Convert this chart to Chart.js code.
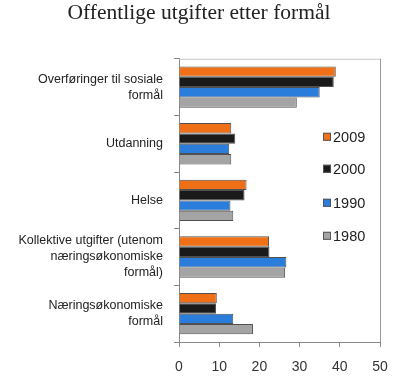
<!DOCTYPE html>
<html>
<head>
<meta charset="utf-8">
<script src="https://cdn.jsdelivr.net/npm/chart.js@4.4.1/dist/chart.umd.min.js"></script>
<style>
    html, body {margin: 0; padding: 0; background: #fff;}
    #wrap {width: 400px; height: 385px; position: relative;}
</style>
</head>
<body>
<div id="wrap"><canvas id="chart"></canvas></div>
<script>
const categories = [
    ["Overføringer til sosiale", "formål"],
    "Utdanning",
    "Helse",
    ["Kollektive utgifter (utenom", "næringsøkonomiske", "formål)"],
    ["Næringsøkonomiske", "formål"]
]
const years = ["2009", "2000", "1990", "1980"]
const values2009 = [39, 13, 16.8, 22.4, 9.4]
const values2000 = [38.5, 14, 16.3, 22.5, 9.2]
const values1990 = [35, 12.5, 12.8, 26.7, 13.5]
const values1980 = [29.3, 13, 13.5, 26.4, 18.4]
const xTicks = [0, 10, 20, 30, 40, 50]

const colors = ["#f07018", "#1a1a1a", "#2b7ddb", "#a4a4a4"]
const series = [values2009, values2000, values1990, values1980]

// box around the plot + legend inside the plot area
const framePlugin = {
    id: "frame",
    afterDraw(chart) {
        let ctx = chart.ctx
        let a = chart.chartArea
        ctx.save()
        ctx.lineWidth = 1
        ctx.strokeStyle = "#c8c8c8"
        ctx.beginPath()
        ctx.moveTo(a.left, a.top + 0.5)
        ctx.lineTo(a.right, a.top + 0.5)
        ctx.stroke()
        ctx.strokeStyle = "#999"
        ctx.beginPath()
        ctx.moveTo(a.right + 0.5, a.top)
        ctx.lineTo(a.right + 0.5, a.bottom)
        ctx.stroke()

        let legendY = [78, 110, 144, 177]
        ctx.font = "14.5px 'Liberation Sans', Arial, sans-serif"
        ctx.textBaseline = "middle"
        chart.data.datasets.forEach((ds, i) => {
            let y = a.top + legendY[i]
            let x = 323
            ctx.fillStyle = ds.backgroundColor
            ctx.fillRect(x, y - 4, 8, 8)
            ctx.strokeStyle = "#555"
            ctx.strokeRect(x + 0.5, y - 3.5, 7, 7)
            ctx.fillStyle = "#222"
            ctx.fillText(ds.label, x + 10, y + 1)
        })
        ctx.restore()
    }
}

let datasets = years.map((y, i) => ({
    label: y,
    data: series[i],
    backgroundColor: colors[i],
    borderColor: "#505050",
    borderWidth: 1,
    barPercentage: 1,
    categoryPercentage: 0.73
}))

new Chart("chart", {
    type: "bar",
    data: {labels: categories, datasets: datasets},
    options: {
        indexAxis: "y",
        responsive: true,
        maintainAspectRatio: false,
        animation: {duration: 0},
        layout: {padding: {left: 18, right: 20, top: 0, bottom: 0}},
        scales: {
            x: {
                min: 0, max: 50,
                afterBuildTicks: (scale) => { scale.ticks = xTicks.map(v => ({value: v})) },
                afterFit: (scale) => { scale.height = 43 },
                grid: {drawOnChartArea: false, tickLength: 5, color: "#888"},
                border: {color: "#888"},
                ticks: {color: "#333", padding: 12, font: {family: "'Liberation Sans', Arial, sans-serif", size: 14}}
            },
            y: {
                afterFit: (scale) => { scale.width = 161 },
                grid: {drawOnChartArea: false, tickLength: 5, color: "#888", offset: true},
                border: {color: "#888"},
                ticks: {color: "#222", padding: 11, font: {family: "'Liberation Sans', Arial, sans-serif", size: 12.5, lineHeight: 1.28}}
            }
        },
        plugins: {
            legend: {display: false},
            tooltip: {enabled: false},
            title: {
                display: true,
                text: "Offentlige utgifter etter formål",
                color: "#222",
                font: {family: "'Liberation Serif', 'Times New Roman', serif", size: 21.5, weight: "normal", lineHeight: 1.2},
                padding: {top: 0, bottom: 33}
            }
        }
    },
    plugins: [framePlugin]
})
</script>
</body>
</html>
